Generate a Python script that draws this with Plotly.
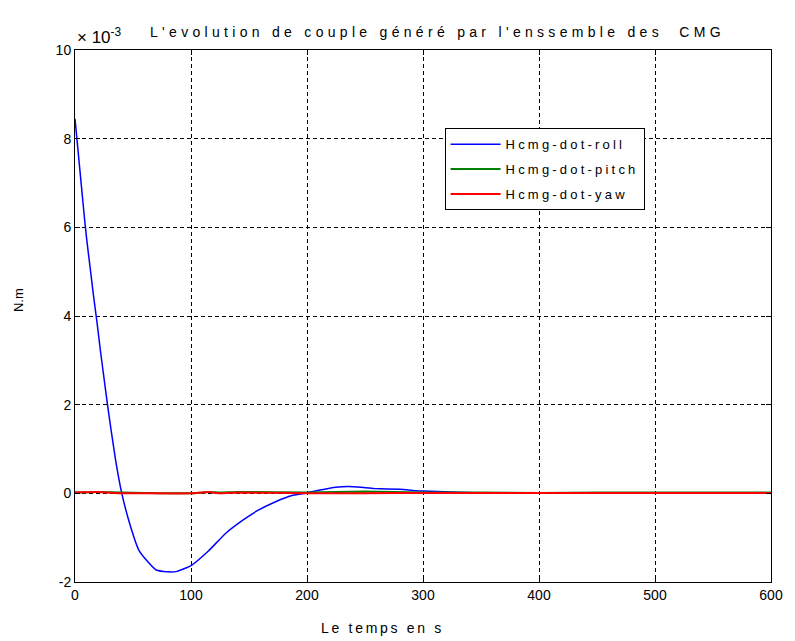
import plotly.graph_objects as go

# ---- data (values in units of 1e-3 N.m) ----
t_roll = [0, 2, 4, 6, 8, 10, 13, 16, 19, 22, 25, 28, 31, 35, 40, 47, 55, 63, 70, 80, 88, 100,
          115, 130, 145, 158, 172, 187, 198, 210, 225, 240, 258, 280, 300, 325, 350,
          400, 420, 450, 500, 550, 600]
roll = [8.45, 7.9, 7.35, 6.8, 6.25, 5.75, 5.1, 4.45, 3.85, 3.2, 2.6, 2.0, 1.45, 0.75, 0.04,
        -0.67, -1.28, -1.55, -1.73, -1.77, -1.76, -1.63, -1.3, -0.9, -0.6, -0.38, -0.2,
        -0.05, 0.0, 0.07, 0.14, 0.15, 0.11, 0.09, 0.05, 0.03, 0.01, 0.0, 0.01, 0.0, 0.0,
        0.0, 0.0]

t_pitch = [0, 20, 40, 60, 100, 115, 125, 140, 200, 250, 300, 350, 400, 450, 500, 550, 600]
pitch = [0.02, 0.03, 0.02, 0.01, 0.0, 0.03, 0.02, 0.03, 0.02, 0.04, 0.02, 0.02, 0.01, 0.02, 0.02, 0.02, 0.02]

t_yaw = [0, 20, 40, 60, 100, 115, 125, 140, 200, 250, 300, 350, 400, 450, 500, 550, 600]
yaw = [0.02, 0.03, 0.0, 0.0, 0.0, 0.03, 0.0, 0.02, 0.0, 0.0, 0.01, 0.01, 0.01, 0.01, 0.01, 0.01, 0.01]

x_ticks = [0, 100, 200, 300, 400, 500, 600]
y_ticks = [-2, 0, 2, 4, 6, 8, 10]

names = ["Hcmg-dot-roll", "Hcmg-dot-pitch", "Hcmg-dot-yaw"]
colors = ["#0000ff", "#008000", "#ff0000"]

title_text = "L'evolution de couple généré par l'enssemble des  CMG"
xlabel_text = "Le temps en s"
ylabel_text = "N.m"


def spaced(s, ls):
    return f'<span style="letter-spacing:{ls}px">{s}</span>'


fig = go.Figure()
series = [(t_roll, roll, 1.5), (t_pitch, pitch, 2), (t_yaw, yaw, 2)]
for i, ((tx, ty, w), nm, c) in enumerate(zip(series, names, colors)):
    fig.add_trace(go.Scatter(
        x=tx, y=ty, mode="lines", name=spaced(nm, 3.2), legendgroup=f"g{i}",
        line=dict(color=c, width=w, shape="spline", smoothing=0.4),
    ))

FONT = "Liberation Sans, Arial, sans-serif"
axis_common = dict(
    showline=True, linecolor="black", linewidth=1, mirror="ticks",
    ticks="inside", ticklen=5, tickcolor="black",
    showgrid=True, gridcolor="black", gridwidth=1, griddash="4px,3px",
    zeroline=False, tickfont=dict(family=FONT, size=14, color="black"),
)

fig.update_layout(
    width=795, height=641,
    margin=dict(l=75, r=19, t=50, b=59),
    paper_bgcolor="white", plot_bgcolor="white",
    font=dict(family=FONT, color="black"),
    showlegend=True,
    legend=dict(
        x=0.531, y=0.853, xanchor="left", yanchor="top",
        bgcolor="white", bordercolor="black", borderwidth=1,
        font=dict(family=FONT, size=13, color="black"),
        tracegroupgap=5, itemwidth=50,
    ),
    xaxis=dict(range=[0, 600], tickvals=x_ticks, ticktext=[str(v) for v in x_ticks],
               **axis_common),
    yaxis=dict(range=[-2, 10], tickvals=y_ticks, ticktext=[str(v) for v in y_ticks],
               **axis_common),
    annotations=[
        dict(text=spaced(title_text, 4.3),
             xref="paper", yref="paper", x=0.521, y=1.0, yshift=8,
             xanchor="center", yanchor="bottom", showarrow=False,
             font=dict(family=FONT, size=14, color="black")),
        dict(text="× 10<sup>-3</sup>", xref="paper", yref="paper", x=0.0, y=1.0, yshift=1,
             xanchor="left", yanchor="bottom", showarrow=False,
             font=dict(family=FONT, size=17, color="black")),
        dict(text=spaced(xlabel_text, 2.7), xref="paper", yref="paper", x=0.442, y=0.0,
             yshift=-46, xanchor="center", yanchor="middle", showarrow=False,
             font=dict(family=FONT, size=14, color="black")),
        dict(text=ylabel_text, xref="paper", yref="paper", x=0.0, y=0.53,
             xshift=-57, textangle=-90, xanchor="center", yanchor="middle", showarrow=False,
             font=dict(family=FONT, size=13, color="black")),
    ],
)

fig.write_html("out.html")
